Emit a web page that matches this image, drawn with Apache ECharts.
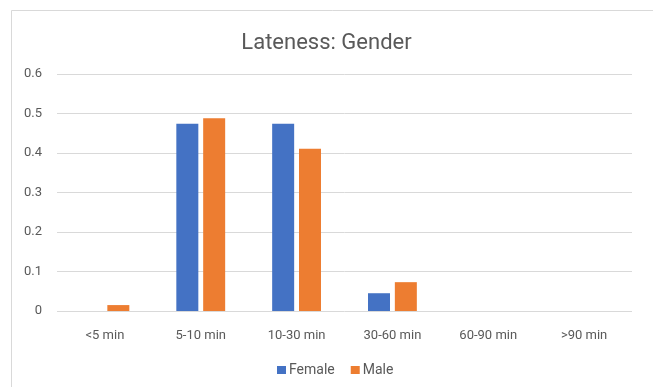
<!DOCTYPE html>
<html>
<head>
<meta charset="utf-8">
<script src="https://cdn.jsdelivr.net/npm/echarts@6/dist/echarts.min.js"></script>
<style>
  html, body { margin: 0; padding: 0; background: #fff; }
  #chart { width: 653px; height: 387px; }
</style>
</head>
<body>
<div id="chart"></div>
<script>
// Share of late arrivals per delay bucket, by gender
const categories = ['<5 min', '5-10 min', '10-30 min', '30-60 min', '60-90 min', '>90 min'];
const femaleValues = [0, 0.474, 0.474, 0.045, 0, 0];
const maleValues = [0.015, 0.488, 0.411, 0.073, 0, 0];
const yTicks = [0, 0.1, 0.2, 0.3, 0.4, 0.5, 0.6];

const chart = echarts.init(document.getElementById('chart'));
const textColor = '#595959';
const font = 'Roboto, "Liberation Sans", sans-serif';

chart.setOption({
  animation: false,
  backgroundColor: '#ffffff',
  graphic: [{
    type: 'rect',
    shape: { x: 11.5, y: 10.5, width: 660, height: 400 },
    style: { fill: 'none', stroke: '#d9d9d9', lineWidth: 1 },
    silent: true
  }],
  title: {
    text: 'Lateness: Gender',
    left: 'center',
    top: 27,
    textStyle: { color: textColor, fontSize: 22, fontWeight: 'normal', fontFamily: font }
  },
  legend: {
    top: 358,
    left: 272,
    itemWidth: 9,
    itemHeight: 8,
    itemGap: 16,
    icon: 'rect',
    textStyle: { color: textColor, fontSize: 14, fontFamily: font, padding: [0, 0, 0, -2] },
    data: ['Female', 'Male']
  },
  grid: { left: 57, right: 21, top: 74, bottom: 76 },
  xAxis: {
    type: 'category',
    data: categories,
    axisLine: { show: false },
    axisTick: { show: false },
    axisLabel: { color: textColor, fontSize: 13, margin: 18, fontFamily: font }
  },
  yAxis: {
    type: 'value',
    min: yTicks[0],
    max: yTicks[yTicks.length - 1],
    interval: 0.1,
    axisLine: { show: false },
    axisTick: { show: false },
    axisLabel: {
      color: textColor, fontSize: 13, margin: 15, fontFamily: font,
      formatter: v => String(Math.round(v * 10) / 10)
    },
    splitLine: { lineStyle: { color: '#d9d9d9', width: 1 } }
  },
  series: [
    {
      name: 'Female', type: 'bar', data: femaleValues,
      itemStyle: { color: '#4472C4' },
      barWidth: 22, barGap: '22%'
    },
    {
      name: 'Male', type: 'bar', data: maleValues,
      itemStyle: { color: '#ED7D31' },
      barWidth: 22
    }
  ]
});
</script>
</body>
</html>
